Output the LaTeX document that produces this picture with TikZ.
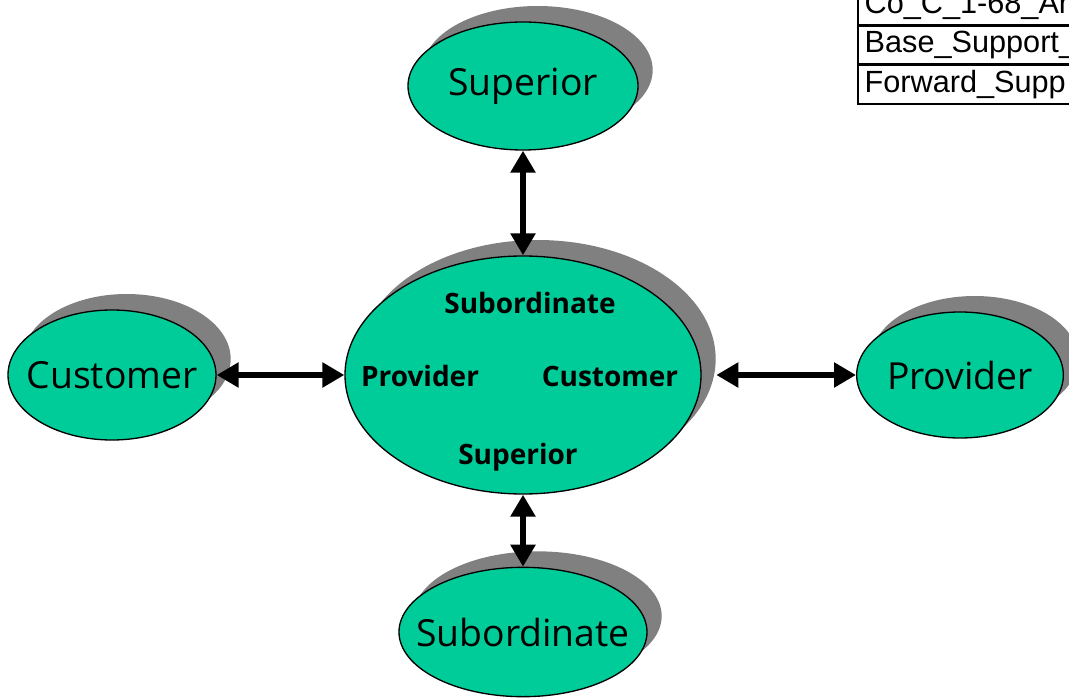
\documentclass[tikz,border=0pt]{standalone}
\usepackage{fontspec}
\usepackage{tikz}
\usetikzlibrary{arrows.meta,positioning,shapes.geometric,shadows}
\newfontfamily\ovalfont{Open Sans}
\newfontfamily\tablefont{Liberation Sans}
\definecolor{ovalgreen}{RGB}{0,204,153}
\definecolor{shadowgray}{RGB}{128,128,128}
\newcommand{\ovaltext}[1]{\makebox[0pt]{#1}}

\begin{document}
\begin{tikzpicture}[x=0.75pt, y=-0.75pt,
        papel/.style={ellipse, draw, line width=1pt, fill=ovalgreen, inner sep=0pt,
            drop shadow={shadow xshift=11pt, shadow yshift=12pt, fill=shadowgray, opacity=1},
            font=\ovalfont\fontsize{28}{32}\selectfont},
        rotulo/.style={font=\ovalfont\bfseries\fontsize{21}{25}\selectfont},
        seta/.style={{Triangle[length=16.5pt,width=18pt]}-{Triangle[length=16.5pt,width=18pt]}, line width=5pt},
        cell/.style={draw, line width=2pt, outer sep=0pt, minimum height=29.5pt, text width=230pt,
            inner xsep=5pt, align=left, anchor=north west, font=\tablefont\fontsize{23}{26}\selectfont}
    ]
        \useasboundingbox (0,0) rectangle (1069,698);

        \node[papel, minimum width=172.5pt, minimum height=96pt] (sup) at (523,86) {\ovaltext{Superior}};
        \node[papel, minimum width=267pt, minimum height=178.5pt] (ctr) at (523,375) {};
        \node[papel, minimum width=156pt, minimum height=97.5pt] (cust) at (112,375) {\ovaltext{Customer}};
        \node[papel, minimum width=155pt, minimum height=94.5pt] (prov) at (960,375) {\ovaltext{Provider}};
        \node[papel, minimum width=186pt, minimum height=97pt] (sub) at (523,632) {\ovaltext{Subordinate}};

        \node[rotulo] (c-sub) at (530,303) {Subordinate};
        \node[rotulo] (c-prov) at (420,376) {Provider};
        \node[rotulo] (c-cust) at (610,376) {Customer};
        \node[rotulo] (c-sup) at (518,457) {Superior};

        \draw[seta] (sup) -- (ctr);
        \draw[seta] (ctr) -- (sub);
        \draw[seta] (cust) -- (ctr);
        \draw[seta, shorten <=11pt] (ctr) -- (prov);

        % tabela no canto
        \node[cell] (r1) at (858,-14) {Co\_C\_1-68\_Ar};
        \node[cell, below=0pt of r1] (r2) {Base\_Support\_};
        \node[cell, below=0pt of r2] (r3) {Forward\_Supp};

    \end{tikzpicture}
\end{document}
